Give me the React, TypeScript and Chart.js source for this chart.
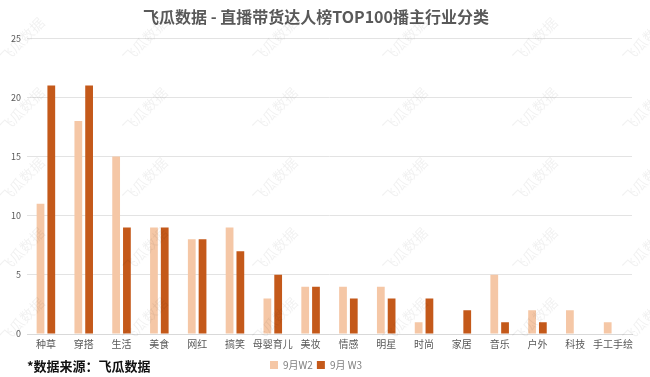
import React, { useEffect, useRef } from "react";
import { Chart, registerables } from "chart.js";

Chart.register(...registerables);

const categories = ["种草", "穿搭", "生活", "美食", "网红", "搞笑", "母婴育儿", "美妆", "情感", "明星", "时尚", "家居", "音乐", "户外", "科技", "手工手绘"];
const w2Values = [11, 18, 15, 9, 8, 9, 3, 4, 4, 4, 1, 0, 5, 2, 2, 1];
const w3Values = [21, 21, 9, 9, 8, 7, 5, 4, 3, 3, 3, 2, 1, 1, 0, 0];
const seriesNames = ["9月W2", "9月 W3"];
const titleText = "飞瓜数据 - 直播带货达人榜TOP100播主行业分类";
const sourceText = "*数据来源：飞瓜数据";
const watermarkText = "飞瓜数据";

const FONT = "'Noto Sans CJK SC', 'Noto Sans', sans-serif";

const watermarkPlugin = {
  id: "watermark",
  afterDraw(chart: any) {
    const ctx = chart.ctx;
    ctx.save();
    ctx.font = `14px ${FONT}`;
    ctx.fillStyle = "rgba(0,0,0,0.06)";
    ctx.textAlign = "center";
    ctx.textBaseline = "middle";
    const xs = [22, 145, 275, 405, 535, 645];
    const ys = [40, 110, 180, 250, 320];
    for (const x of xs) {
      for (const y of ys) {
        ctx.save();
        ctx.translate(x, y);
        ctx.rotate(-Math.PI / 4);
        ctx.fillText(watermarkText, 0, 0);
        ctx.restore();
      }
    }
    ctx.restore();
  },
};

const sourcePlugin = {
  id: "sourceText",
  afterDraw(chart: any) {
    const ctx = chart.ctx;
    ctx.save();
    ctx.font = `bold 13px ${FONT}`;
    ctx.fillStyle = "#111111";
    ctx.textBaseline = "middle";
    ctx.textAlign = "left";
    ctx.fillText(sourceText, 27, 366);
    ctx.restore();
  },
};

export default function App() {
  const ref = useRef<HTMLCanvasElement | null>(null);
  useEffect(() => {
    if (!ref.current) return;
    const chart = new Chart(ref.current, {
      type: "bar",
      data: {
        labels: categories,
        datasets: [
          { label: seriesNames[0], data: w2Values, backgroundColor: "#F5C7A6", categoryPercentage: 0.57, barPercentage: 0.72 },
          { label: seriesNames[1], data: w3Values, backgroundColor: "#C4591A", categoryPercentage: 0.57, barPercentage: 0.72 },
        ],
      },
      plugins: [watermarkPlugin, sourcePlugin],
      options: {
        animation: false,
        responsive: false,
        maintainAspectRatio: false,
        layout: { padding: { left: 0, right: 18, top: 0, bottom: -3 } },
        plugins: {
          title: {
            display: true,
            text: titleText,
            color: "#595959",
            font: { family: FONT, size: 16, weight: "bold" },
            padding: { top: 7, bottom: 12 },
          },
          legend: {
            position: "bottom",
            labels: {
              boxWidth: 8,
              boxHeight: 8,
              color: "#7f7f7f",
              font: { family: FONT, size: 10 },
              padding: 4,
            },
          },
          tooltip: { enabled: false },
        },
        scales: {
          x: {
            grid: { display: false, drawTicks: false },
            border: { color: "#d9d9d9" },
            ticks: { color: "#595959", font: { family: FONT, size: 10 }, maxRotation: 0, autoSkip: false, padding: 4 },
            afterFit(scale: any) {
              scale.height = 22;
            },
          },
          y: {
            min: 0,
            max: 25,
            grid: { color: "#e3e3e3", drawTicks: false },
            border: { display: false },
            ticks: { stepSize: 5, color: "#595959", font: { family: FONT, size: 9 }, padding: 6 },
            afterFit(scale: any) {
              scale.width = 27;
            },
          },
        },
      },
    });
    return () => chart.destroy();
  }, []);
  return (
    <div style={{ position: "fixed", left: 0, top: 0, width: 650, height: 377, background: "#fff" }}>
      <canvas ref={ref} width={650} height={377} />
    </div>
  );
}
